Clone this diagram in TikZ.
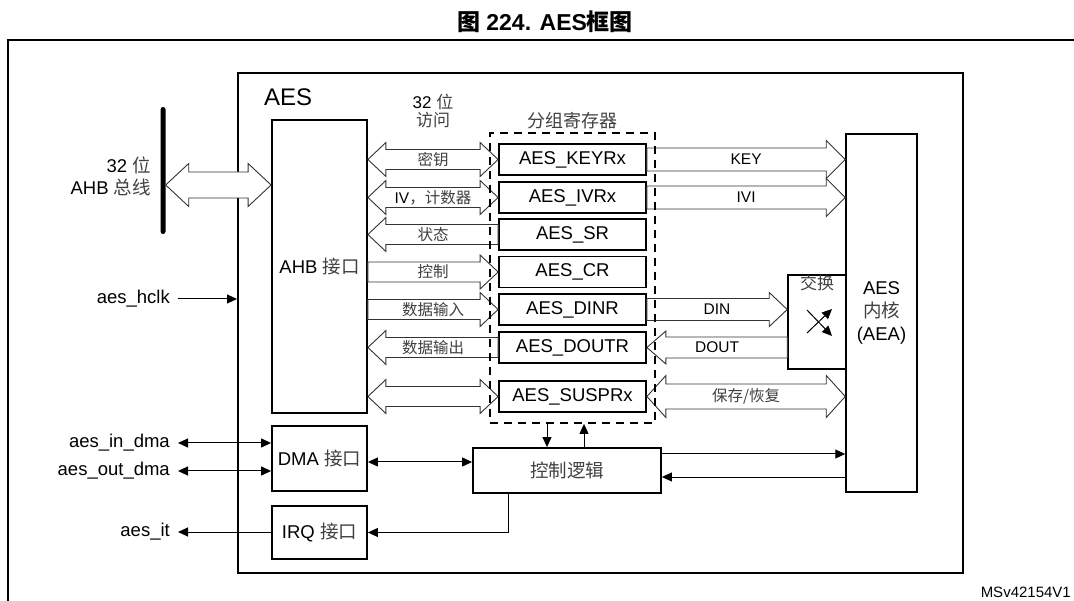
\documentclass[tikz,border=0pt]{standalone}
\usepackage{fontspec}
\setmainfont{Liberation Sans}
\newfontfamily\cjk{Noto Sans CJK SC}
\usetikzlibrary{arrows.meta,calc}
\newcommand\zh[1]{{\cjk\color{black!75}#1}}
\newcommand\zhb[1]{{\cjk #1}}
% fat (hollow) arrows: #1 left end, #2 right end, #3 y reference, #4 shaft half, #5 head half, #6 head length, #7 label
\newcommand\fatB[7]{%
 \path[fat] let \p1=(#1), \p2=(#2), \p3=(#3) in
  (\x1,\y3) -- ({\x1+#6},{\y3+#5}) -- ({\x1+#6},{\y3+#4}) -- ({\x2-#6},{\y3+#4}) -- ({\x2-#6},{\y3+#5}) -- (\x2,\y3)
  -- ({\x2-#6},{\y3-#5}) -- ({\x2-#6},{\y3-#4}) -- ({\x1+#6},{\y3-#4}) -- ({\x1+#6},{\y3-#5}) -- cycle
  ({(\x1+\x2)/2},\y3) node[arrlbl] {#7};}
\newcommand\fatR[7]{%
 \path[fat] let \p1=(#1), \p2=(#2), \p3=(#3) in
  (\x1,{\y3+#4}) -- ({\x2-#6},{\y3+#4}) -- ({\x2-#6},{\y3+#5}) -- (\x2,\y3)
  -- ({\x2-#6},{\y3-#5}) -- ({\x2-#6},{\y3-#4}) -- (\x1,{\y3-#4}) -- cycle
  ({(\x1+\x2)/2},\y3) node[arrlbl] {#7};}
\newcommand\fatL[7]{%
 \path[fat] let \p1=(#1), \p2=(#2), \p3=(#3) in
  (\x1,\y3) -- ({\x1+#6},{\y3+#5}) -- ({\x1+#6},{\y3+#4}) -- (\x2,{\y3+#4})
  -- (\x2,{\y3-#4}) -- ({\x1+#6},{\y3-#4}) -- ({\x1+#6},{\y3-#5}) -- cycle
  ({(\x1+\x2)/2},\y3) node[arrlbl] {#7};}
\tikzset{
  fat/.style={draw=black!80, fill=white, line width=0.9pt},
  arrlbl/.style={font=\fontsize{15.5}{18}\selectfont, inner sep=0pt},
  lbl/.style={font=\fontsize{18.5}{22}\selectfont},
  blk/.style={draw, line width=1.8pt, inner sep=0pt, font=\fontsize{18.5}{22}\selectfont},
  reg/.style={blk, minimum width=147pt, minimum height=31pt},
  conn/.style={line width=1pt, >={Triangle[length=10pt,width=9pt]}},
}
\begin{document}
\begin{tikzpicture}[x=1pt,y=1pt]
\useasboundingbox (0,0) rectangle (1074,-601);
% title
\node[font=\bfseries\fontsize{23}{27}\selectfont] (title) at (545,-22) {\zhb{图} 224. AES\zhb{框图}};
% outer frame
\draw[line width=2pt] (8,-601) -- (8,-40) -- (1074,-40);
% AES box
\node[blk, line width=2pt, minimum width=725pt, minimum height=500pt] (aesbox) at (600.5,-323) {};
\node[anchor=west, inner sep=0pt, font=\fontsize{24}{28}\selectfont] (aeslbl) at (264,-97) {AES};
% blocks
\node[blk, minimum width=95pt, minimum height=293pt] (ahb) at (319.5,-266.5) {AHB \zh{接口}};
\node[blk, minimum width=95pt, minimum height=65pt] (dma) at (319.5,-458.5) {DMA \zh{接口}};
\node[blk, minimum width=95pt, minimum height=53pt] (irq) at (319.5,-532.5) {IRQ \zh{接口}};
\node[blk, line width=1.5pt, minimum width=71pt, minimum height=358pt, align=center, font=\fontsize{18.5}{23}\selectfont] (core) at (881.5,-313) {AES\\\zh{内核}\\(AEA)};
\node[blk, line width=1.5pt, minimum width=58pt, minimum height=94pt] (swap) at (817,-322) {};
\node[anchor=north, inner sep=1pt, font=\fontsize{17}{20}\selectfont] (swaplbl) at (swap.north) {\zh{交换}};
\node[blk, minimum width=188pt, minimum height=45pt] (ctrl) at (567,-470.5) {\zh{控制逻辑}};
% registers
\node[reg] (keyr) at (572.5,-159.5) {AES\_KEYRx};
\node[reg] (ivr) at (572.5,-197.5) {AES\_IVRx};
\node[reg] (sr) at (572.5,-234.5) {AES\_SR};
\node[reg] (cr) at (572.5,-272) {AES\_CR};
\node[reg] (dinr) at (572.5,-309.5) {AES\_DINR};
\node[reg] (doutr) at (572.5,-347.5) {AES\_DOUTR};
\node[reg] (suspr) at (572.5,-396.5) {AES\_SUSPRx};
% bus
\node[fill=black, minimum width=5pt, minimum height=127pt, inner sep=0pt, rounded corners=2.5pt] (bus) at (163,-170.5) {};
\coordinate (busy) at (0,-185);
\node[lbl, anchor=east, align=right, inner sep=0pt] (buslbl) at (151,-176) {32 \zh{位}\\AHB \zh{总线}};
% labels
\node[align=center, inner sep=0pt, font=\fontsize{17}{18.5}\selectfont] (acc) at (433,-111) {32 \zh{位}\\\zh{访问}};
\node[inner sep=0pt, font=\fontsize{18}{22}\selectfont] (grplbl) at (572,-121) {\zh{分组寄存器}};
\node[lbl, anchor=east, inner sep=0pt] (hclk) at (170,-299) {aes\_hclk};
\node[lbl, anchor=east, inner sep=0pt] (indma) at (170,-443) {aes\_in\_dma};
\node[lbl, anchor=east, inner sep=0pt] (outdma) at (170,-471) {aes\_out\_dma};
\node[lbl, anchor=east, inner sep=0pt] (it) at (170,-532) {aes\_it};
\node[anchor=east, inner sep=0pt, font=\fontsize{15}{18}\selectfont] (ref) at (1071,-592) {MSv42154V1};
% fat arrows
\fatB{bus.east}{ahb.west}{busy}{13pt}{21.5pt}{23pt}{}
\fatB{ahb.east}{keyr.west}{keyr.west}{10pt}{17pt}{18pt}{\zh{密钥}}
\fatB{ahb.east}{ivr.west}{ivr.west}{10pt}{17pt}{18pt}{IV\zh{，计数器}}
\fatL{ahb.east}{sr.west}{sr.west}{10pt}{17pt}{18pt}{\zh{状态}}
\fatR{ahb.east}{cr.west}{cr.west}{10pt}{17pt}{18pt}{\zh{控制}}
\fatR{ahb.east}{dinr.west}{dinr.west}{10pt}{17pt}{18pt}{\zh{数据输入}}
\fatL{ahb.east}{doutr.west}{doutr.west}{10pt}{17pt}{18pt}{\zh{数据输出}}
\fatB{ahb.east}{suspr.west}{suspr.west}{10pt}{17pt}{18pt}{}
\fatR{keyr.east}{core.west}{keyr.east}{11.5pt}{19pt}{19pt}{KEY}
\fatR{ivr.east}{core.west}{ivr.east}{11.5pt}{19pt}{19pt}{IVI}
\fatR{dinr.east}{swap.west}{dinr.east}{11pt}{17pt}{18pt}{DIN}
\fatL{doutr.east}{swap.west}{doutr.east}{10.5pt}{16.5pt}{19pt}{DOUT}
\fatB{suspr.east}{core.west}{suspr.east}{12.5pt}{21pt}{19pt}{\zh{保存/恢复}}
% register group
\node[draw, line width=1.8pt, dash pattern=on 8pt off 6pt, minimum width=165pt, minimum height=290pt, inner sep=0pt] (grp) at (572.5,-278) {};
% swap symbol
\draw[conn, ->, >={Triangle[length=10pt,width=9pt]}] ([shift={(-10pt,-11pt)}]swap.center) -- ([shift={(15pt,13pt)}]swap.center);
\draw[conn, ->, >={Triangle[length=10pt,width=9pt]}] ([shift={(-10pt,12pt)}]swap.center) -- ([shift={(15pt,-14pt)}]swap.center);
% thin connectors
\draw[conn, ->] ([xshift=8pt]hclk.east) -- (hclk.east -| aesbox.west);
\draw[conn, <->] ([xshift=8pt]indma.east) -- (indma.east -| dma.west);
\draw[conn, <->] ([xshift=8pt]outdma.east) -- (outdma.east -| dma.west);
\draw[conn, ->] (it.east -| irq.west) -- ([xshift=8pt]it.east);
\coordinate (dn) at ([xshift=-20pt]ctrl.north);
\coordinate (up) at ([xshift=17pt]ctrl.north);
\draw[conn, ->] (dn |- grp.south) -- (dn);
\draw[conn, ->] (up) -- (up |- grp.south);
\coordinate (dc) at ([yshift=8.5pt]ctrl.west);
\draw[conn, <->] (dc -| dma.east) -- (dc);
\coordinate (ci) at ([xshift=-59pt]ctrl.south);
\draw[conn, ->] (ci) |- (irq.east);
\coordinate (cc1) at ([yshift=16.5pt]ctrl.east);
\draw[conn, ->] (cc1) -- (cc1 -| core.west);
\coordinate (cc2) at ([yshift=-6.5pt]ctrl.east);
\draw[conn, <-] (cc2) -- (cc2 -| core.west);
\end{tikzpicture}
\end{document}
